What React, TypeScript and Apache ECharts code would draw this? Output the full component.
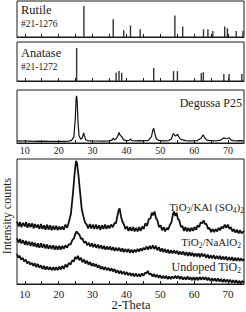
import React, { useEffect, useRef } from "react";
import * as echarts from "echarts";

// Reference stick patterns (2-theta, relative intensity)
const RUTILE_POS = [27.45, 36.1, 39.2, 41.2, 44.05, 54.3, 56.6, 62.75, 64.05, 65.5, 69.0, 69.8, 72.4, 74.4];
const RUTILE_INT = [100, 57, 22, 37, 25, 69, 34, 25, 25, 19, 34, 28, 19, 19];
const ANATASE_POS = [25.3, 36.95, 37.8, 38.6, 48.05, 53.9, 55.05, 62.1, 62.7, 68.75, 70.3, 74.05];
const ANATASE_INT = [100, 25, 30, 25, 39, 30, 30, 24, 27, 21, 21, 21];

// Degussa P25 pattern [2-theta, intensity]
const P25: [number, number][] = [
  [7.7, 4], [9, 3.5], [10, 4.2], [11, 3.5], [12, 3.8], [13, 3.2], [14, 3.6], [15, 3], [16, 3.4], [17, 3],
  [18, 3.3], [19, 3], [20, 3.2], [21, 3], [22, 3.2], [23, 3.5], [23.8, 5], [24.5, 12], [24.9, 45], [25.15, 85],
  [25.3, 89], [25.45, 80], [25.7, 40], [26.0, 14], [26.5, 7], [27.0, 10], [27.35, 19], [27.6, 14], [28, 6], [28.5, 4.5],
  [29.5, 4], [31, 3.8], [33, 3.6], [35, 4], [35.8, 6], [36.1, 9], [36.5, 6], [37, 8], [37.5, 14], [37.8, 20],
  [38.1, 15], [38.6, 12], [39.2, 6], [40, 4.5], [40.8, 5], [41.2, 7.5], [41.6, 4.5], [43, 4], [44, 4.5], [45, 4],
  [46.5, 5], [47.4, 12], [47.8, 25], [48.05, 27.5], [48.3, 20], [48.8, 8], [49.5, 5], [51, 4], [52.5, 4.5], [53.3, 8],
  [53.7, 16], [53.9, 18], [54.2, 15], [54.5, 13], [54.7, 14], [55.1, 16.5], [55.4, 12], [56, 7], [56.6, 6], [57.5, 4.5],
  [59, 4], [61, 4.5], [62, 9], [62.5, 14], [62.7, 15], [63, 11], [63.6, 6], [64.2, 5], [65.5, 4], [67, 4.5],
  [68, 6], [68.8, 10], [69.3, 8], [69.8, 8.5], [70.3, 10], [70.8, 6], [71.5, 4.5], [72.5, 4], [73.5, 4.5], [74.7, 4],
];

// TiO2/KAl(SO4)2
const KAL: [number, number][] = [
  [7.7, 50], [8.2, 46], [8.6, 49.5], [9, 45.5], [9.5, 49], [10, 46], [10.4, 49.5], [10.8, 45], [11.3, 48.5], [11.7, 45.5],
  [12.2, 48.5], [12.6, 44.5], [13, 48], [13.5, 45], [13.9, 47.5], [14.3, 44], [14.8, 48], [15.2, 44], [15.7, 47], [16.1, 43.5],
  [16.6, 47.5], [17, 43.5], [17.5, 47], [17.9, 43], [18.4, 46.5], [18.8, 43.5], [19.3, 46.5], [19.7, 43], [20.2, 46], [20.6, 43.5],
  [21.1, 46], [21.5, 43.5], [22, 47.5], [22.5, 45], [23, 49.5], [23.6, 56], [24.2, 72], [24.7, 88], [25.1, 98.5], [25.4, 97],
  [25.8, 88], [26.3, 74], [26.8, 60], [27.3, 54], [27.8, 49], [28.3, 47.5], [28.7, 44.5], [29.2, 48], [29.6, 44.5], [30.1, 47.5],
  [30.5, 44], [31, 47.5], [31.4, 44], [31.9, 47], [32.3, 43.5], [32.8, 47], [33.2, 44], [33.7, 47.5], [34.1, 44], [34.6, 47],
  [35, 44.5], [35.5, 47.5], [36, 45.5], [36.5, 49], [36.9, 48.5], [37.3, 54], [37.7, 59], [38.0, 60.5], [38.4, 54], [38.8, 50],
  [39.3, 47.5], [39.7, 44], [40.2, 46], [40.6, 42.5], [41.1, 45.5], [41.5, 42.5], [42, 45.5], [42.4, 42], [42.9, 45], [43.3, 42],
  [43.8, 45.5], [44.2, 42.5], [44.7, 46], [45.1, 44], [45.6, 48.5], [46.1, 46.5], [46.6, 52], [47.1, 52.5], [47.5, 57], [47.9, 55],
  [48.3, 58], [48.7, 53], [49.2, 50.5], [49.6, 45.5], [50.1, 47], [50.5, 43], [51, 45.5], [51.4, 42], [51.9, 45], [52.3, 43.5],
  [52.8, 47], [53.3, 49.5], [53.7, 55.5], [54.0, 58], [54.4, 54.5], [54.8, 57], [55.2, 52], [55.6, 51], [56.1, 45.5], [56.5, 46.5],
  [57, 42.5], [57.4, 45.5], [57.9, 42], [58.3, 45], [58.8, 42], [59.2, 45], [59.7, 42.5], [60.1, 45.5], [60.6, 43.5], [61.0, 47],
  [61.5, 45.5], [61.9, 49.5], [62.4, 48.5], [62.8, 51], [63.2, 48], [63.6, 48], [64.1, 44], [64.5, 45], [65, 41.5], [65.4, 44],
  [65.9, 41.5], [66.3, 44], [66.8, 42], [67.2, 45], [67.7, 43], [68.1, 46], [68.6, 44.5], [69.0, 47.5], [69.5, 45], [69.9, 47.5],
  [70.4, 44], [70.8, 45.5], [71.3, 42], [71.7, 44], [72.2, 41], [72.6, 43.5], [73.1, 40.5], [73.5, 43], [74, 40.5], [74.7, 42.5],
];

// TiO2/NaAlO2
const NAAL: [number, number][] = [
  [7.7, 36.5], [8.2, 33], [8.6, 36], [9, 32.5], [9.5, 35], [10, 31.5], [10.4, 34.5], [10.8, 31], [11.3, 34], [11.7, 30.5],
  [12.2, 33.5], [12.6, 30], [13, 33], [13.5, 29.5], [13.9, 32.5], [14.3, 29], [14.8, 32.5], [15.2, 29], [15.7, 32], [16.1, 28.5],
  [16.6, 31.5], [17, 28], [17.5, 31], [17.9, 28], [18.4, 31], [18.8, 27.5], [19.3, 30.5], [19.7, 27.5], [20.2, 30.5], [20.6, 27.5],
  [21.1, 30.5], [21.5, 28], [22, 31], [22.5, 29], [23, 32], [23.5, 31.5], [24, 35], [24.5, 36.5], [24.9, 40], [25.3, 42],
  [25.7, 40.5], [26.1, 39.5], [26.6, 36], [27, 36.5], [27.5, 33], [28, 34], [28.4, 31], [28.9, 33], [29.3, 30], [29.8, 32.5],
  [30.2, 29.5], [30.7, 32], [31.1, 29], [31.6, 31.5], [32, 28.5], [32.5, 31], [32.9, 28], [33.4, 30.5], [33.8, 27.5], [34.3, 30],
  [34.7, 27.5], [35.2, 30], [35.6, 27], [36.1, 29.5], [36.5, 26.5], [37, 29], [37.4, 26.5], [37.9, 29], [38.3, 26], [38.8, 28.5],
  [39.2, 25.5], [39.7, 28], [40.1, 25.5], [40.6, 28], [41, 25], [41.5, 27.5], [41.9, 25], [42.4, 27.5], [42.8, 25.5], [43.3, 28],
  [43.7, 26], [44.2, 28.5], [44.6, 26.5], [45.1, 29], [45.5, 27.5], [46, 30], [46.4, 27.5], [46.9, 30.5], [47.3, 28], [47.8, 31],
  [48.2, 28], [48.7, 30.5], [49.1, 27], [49.6, 29.5], [50, 26], [50.5, 28.5], [50.9, 25.5], [51.4, 28], [51.8, 25], [52.3, 27.5],
  [52.7, 24.5], [53.2, 27], [53.6, 24.5], [54.1, 27], [54.5, 24.5], [55, 26.5], [55.4, 23.5], [55.9, 26], [56.3, 23.5], [56.8, 26],
  [57.2, 23], [57.7, 25.5], [58.1, 22.5], [58.6, 25.5], [59, 22.5], [59.5, 25], [59.9, 22], [60.4, 24.5], [60.8, 22], [61.3, 24.5],
  [61.7, 21.5], [62.2, 24.5], [62.6, 22], [63.1, 24], [63.5, 21], [64, 23.5], [64.4, 20.5], [64.9, 23], [65.3, 20.5], [65.8, 23],
  [66.2, 20], [66.7, 22.5], [67.1, 20], [67.6, 22.5], [68, 19.5], [68.5, 22], [68.9, 19.5], [69.4, 22], [69.8, 19], [70.3, 21.5],
  [70.7, 19], [71.2, 21.5], [71.6, 18.5], [72.1, 21], [72.5, 18.5], [73, 21], [73.4, 18.5], [73.9, 20.5], [74.3, 18.5], [74.7, 20],
];

// Undoped TiO2
const UNDOPED: [number, number][] = [
  [7.7, 24], [8.1, 21], [8.5, 22.5], [8.9, 19.5], [9.4, 21], [9.8, 18], [10.3, 19.5], [10.7, 16.5], [11.2, 18], [11.6, 15.5],
  [12.1, 17], [12.5, 14.5], [13, 16.5], [13.4, 13.5], [13.9, 16], [14.3, 13], [14.8, 15], [15.2, 12], [15.7, 14.5], [16.1, 11.5],
  [16.6, 14], [17, 11.5], [17.5, 13.5], [17.9, 11], [18.4, 13.5], [18.8, 11], [19.3, 13.5], [19.7, 11], [20.2, 14], [20.6, 11.5],
  [21.1, 14.5], [21.5, 12], [22, 15.5], [22.5, 13.5], [23, 17], [23.5, 15.5], [24, 19], [24.5, 18], [24.9, 21.5], [25.3, 20],
  [25.7, 22.5], [26.1, 19], [26.6, 21], [27, 17.5], [27.5, 19.5], [27.9, 16.5], [28.4, 18.5], [28.8, 15.5], [29.3, 17.5], [29.7, 14.5],
  [30.2, 16.5], [30.6, 14], [31.1, 16], [31.5, 13], [32, 15], [32.4, 12], [32.9, 14], [33.3, 11.5], [33.8, 13.5], [34.2, 11],
  [34.7, 13], [35.1, 10.5], [35.6, 12.5], [36, 10], [36.5, 12], [36.9, 9], [37.4, 11], [37.8, 8.5], [38.3, 10.5], [38.7, 8],
  [39.2, 10], [39.6, 7.5], [40.1, 9.5], [40.5, 7], [41, 9], [41.4, 6.5], [41.9, 8.5], [42.3, 6], [42.8, 8.5], [43.2, 6],
  [43.7, 8], [44.1, 6], [44.6, 8.5], [45, 6.5], [45.5, 9], [45.9, 8.5], [46.3, 10.5], [46.8, 7.5], [47.2, 8.5], [47.7, 6],
  [48.1, 8], [48.6, 5.5], [49, 7.5], [49.5, 5], [49.9, 7], [50.4, 4.5], [50.8, 6.5], [51.3, 4.5], [51.7, 6.5], [52.2, 4],
  [52.6, 6], [53.1, 4], [53.5, 6], [54, 4.5], [54.4, 6.5], [54.9, 4.5], [55.3, 6.5], [55.8, 4], [56.2, 6], [56.7, 3.5],
  [57.1, 5.5], [57.6, 3.5], [58, 6], [58.5, 3.5], [58.9, 5.5], [59.4, 3], [59.8, 5.5], [60.3, 3], [60.7, 5.5], [61.2, 3],
  [61.6, 5.5], [62.1, 3.5], [62.5, 5.5], [63, 3.5], [63.4, 5.5], [63.9, 3], [64.3, 5], [64.8, 2.5], [65.2, 4.5], [65.7, 2.5],
  [66.1, 4.5], [66.6, 2], [67, 4.5], [67.5, 2], [67.9, 4], [68.4, 1.5], [68.8, 4], [69.3, 1.5], [69.7, 3.5], [70.2, 1.5],
  [70.6, 3.5], [71.1, 1], [71.5, 3], [72, 1], [72.4, 3], [72.9, 0.5], [73.3, 2.5], [73.8, 0.5], [74.2, 2.5], [74.7, 1],
];

const X_LABELS = [10, 20, 30, 40, 50, 60, 70];
const X_TICKS = [10, 15, 20, 25, 30, 35, 40, 45, 50, 55, 60, 65, 70];

const FONT = "'Liberation Serif', 'Times New Roman', Times, serif";
const INK = "#1a1a1a";

export default function App() {
  const ref = useRef<HTMLDivElement>(null);

  useEffect(() => {
    if (!ref.current) return;
    const chart = echarts.init(ref.current, undefined, { renderer: "svg" });

    const grids = [
      { left: 17, right: 2, top: 1, height: 36 },
      { left: 17, right: 2, top: 42, height: 39 },
      { left: 17, right: 2, top: 90, height: 53 },
      { left: 17, right: 2, top: 159, height: 125 },
    ].map((g) => ({ ...g, show: true, borderColor: INK, borderWidth: 1, backgroundColor: "transparent" }));

    const xAxes = [0, 1, 2, 3].map((i) => ({
      type: "value" as const,
      gridIndex: i,
      min: 7.7,
      max: 74.7,
      splitLine: { show: false },
      axisLine: { show: true, lineStyle: { color: INK, width: 1 } },
      axisTick: {
        show: true,
        inside: true,
        length: 3,
        customValues: X_TICKS,
        lineStyle: { color: INK, width: 1 },
      },
      axisLabel: {
        show: i >= 2,
        customValues: X_LABELS,
        fontFamily: FONT,
        fontSize: i === 3 ? 11 : 10,
        color: INK,
        margin: i === 3 ? 4 : 2,
      },
    }));

    const yMax = [116, 118, 100, 100];
    const yAxes = [0, 1, 2, 3].map((i) => ({
      type: "value" as const,
      gridIndex: i,
      min: 0,
      max: yMax[i],
      show: false,
    }));

    const stick = (pos: number[], inten: number[], idx: number) => ({
      type: "bar" as const,
      xAxisIndex: idx,
      yAxisIndex: idx,
      barWidth: 1.4,
      itemStyle: { color: "#333" },
      data: pos.map((p, k) => [p, inten[k]]),
    });

    const line = (data: [number, number][], idx: number, width: number) => ({
      type: "line" as const,
      xAxisIndex: idx,
      yAxisIndex: idx,
      showSymbol: false,
      symbol: "none",
      lineStyle: { color: "#111", width },
      data,
    });

    const sub = { fontSize: 7.5, fontFamily: FONT, fill: INK, padding: [6, 0, 0, 0] };
    const base = { fontSize: 11, fontFamily: FONT, fill: INK };

    chart.setOption({
      animation: false,
      textStyle: { fontFamily: FONT },
      grid: grids,
      xAxis: xAxes,
      yAxis: yAxes,
      series: [
        stick(RUTILE_POS, RUTILE_INT, 0),
        stick(ANATASE_POS, ANATASE_INT, 1),
        line(P25, 2, 1.2),
        line(KAL, 3, 1.8),
        line(NAAL, 3, 1.8),
        line(UNDOPED, 3, 1.8),
      ],
      graphic: [
        { type: "text", x: 21, y: 10, style: { text: "Rutile", fontSize: 12.5, fontFamily: FONT, fill: INK, textVerticalAlign: "middle" } },
        { type: "text", x: 21, y: 24, style: { text: "#21-1276", fontSize: 9.5, fontFamily: FONT, fill: INK, textVerticalAlign: "middle" } },
        { type: "text", x: 21, y: 53, style: { text: "Anatase", fontSize: 12.5, fontFamily: FONT, fill: INK, textVerticalAlign: "middle" } },
        { type: "text", x: 21, y: 67, style: { text: "#21-1272", fontSize: 9.5, fontFamily: FONT, fill: INK, textVerticalAlign: "middle" } },
        { type: "text", x: 242, y: 103, style: { text: "Degussa P25", fontSize: 12, fontFamily: FONT, fill: INK, textAlign: "right", textVerticalAlign: "middle" } },
        {
          type: "text", x: 244, y: 207,
          style: {
            text: "{b|TiO}{s|2}{b|/KAl (SO}{s|4}{b|)}{s|2}",
            rich: { b: base, s: sub },
            textAlign: "right", textVerticalAlign: "middle",
          },
        },
        {
          type: "text", x: 241, y: 242,
          style: {
            text: "{b|TiO}{s|2}{b|/NaAlO}{s|2}",
            rich: { b: base, s: sub },
            textAlign: "right", textVerticalAlign: "middle",
          },
        },
        {
          type: "text", x: 241, y: 267,
          style: {
            text: "{b|Undoped TiO}{s|2}",
            rich: { b: { ...base, fontSize: 12 }, s: sub },
            textAlign: "right", textVerticalAlign: "middle",
          },
        },
        { type: "text", x: 131, y: 305, style: { text: "2-Theta", fontSize: 12.5, fontFamily: FONT, fill: INK, textAlign: "center", textVerticalAlign: "middle" } },
        {
          type: "text", x: 7, y: 216, rotation: Math.PI / 2,
          style: { text: "Intensity counts", fontSize: 12, fontFamily: FONT, fill: INK, textAlign: "center", textVerticalAlign: "middle" },
        },
      ],
    });

    return () => chart.dispose();
  }, []);

  return (
    <div
      ref={ref}
      style={{ position: "fixed", left: 0, top: 0, width: 246, height: 312, background: "#fff" }}
    />
  );
}
